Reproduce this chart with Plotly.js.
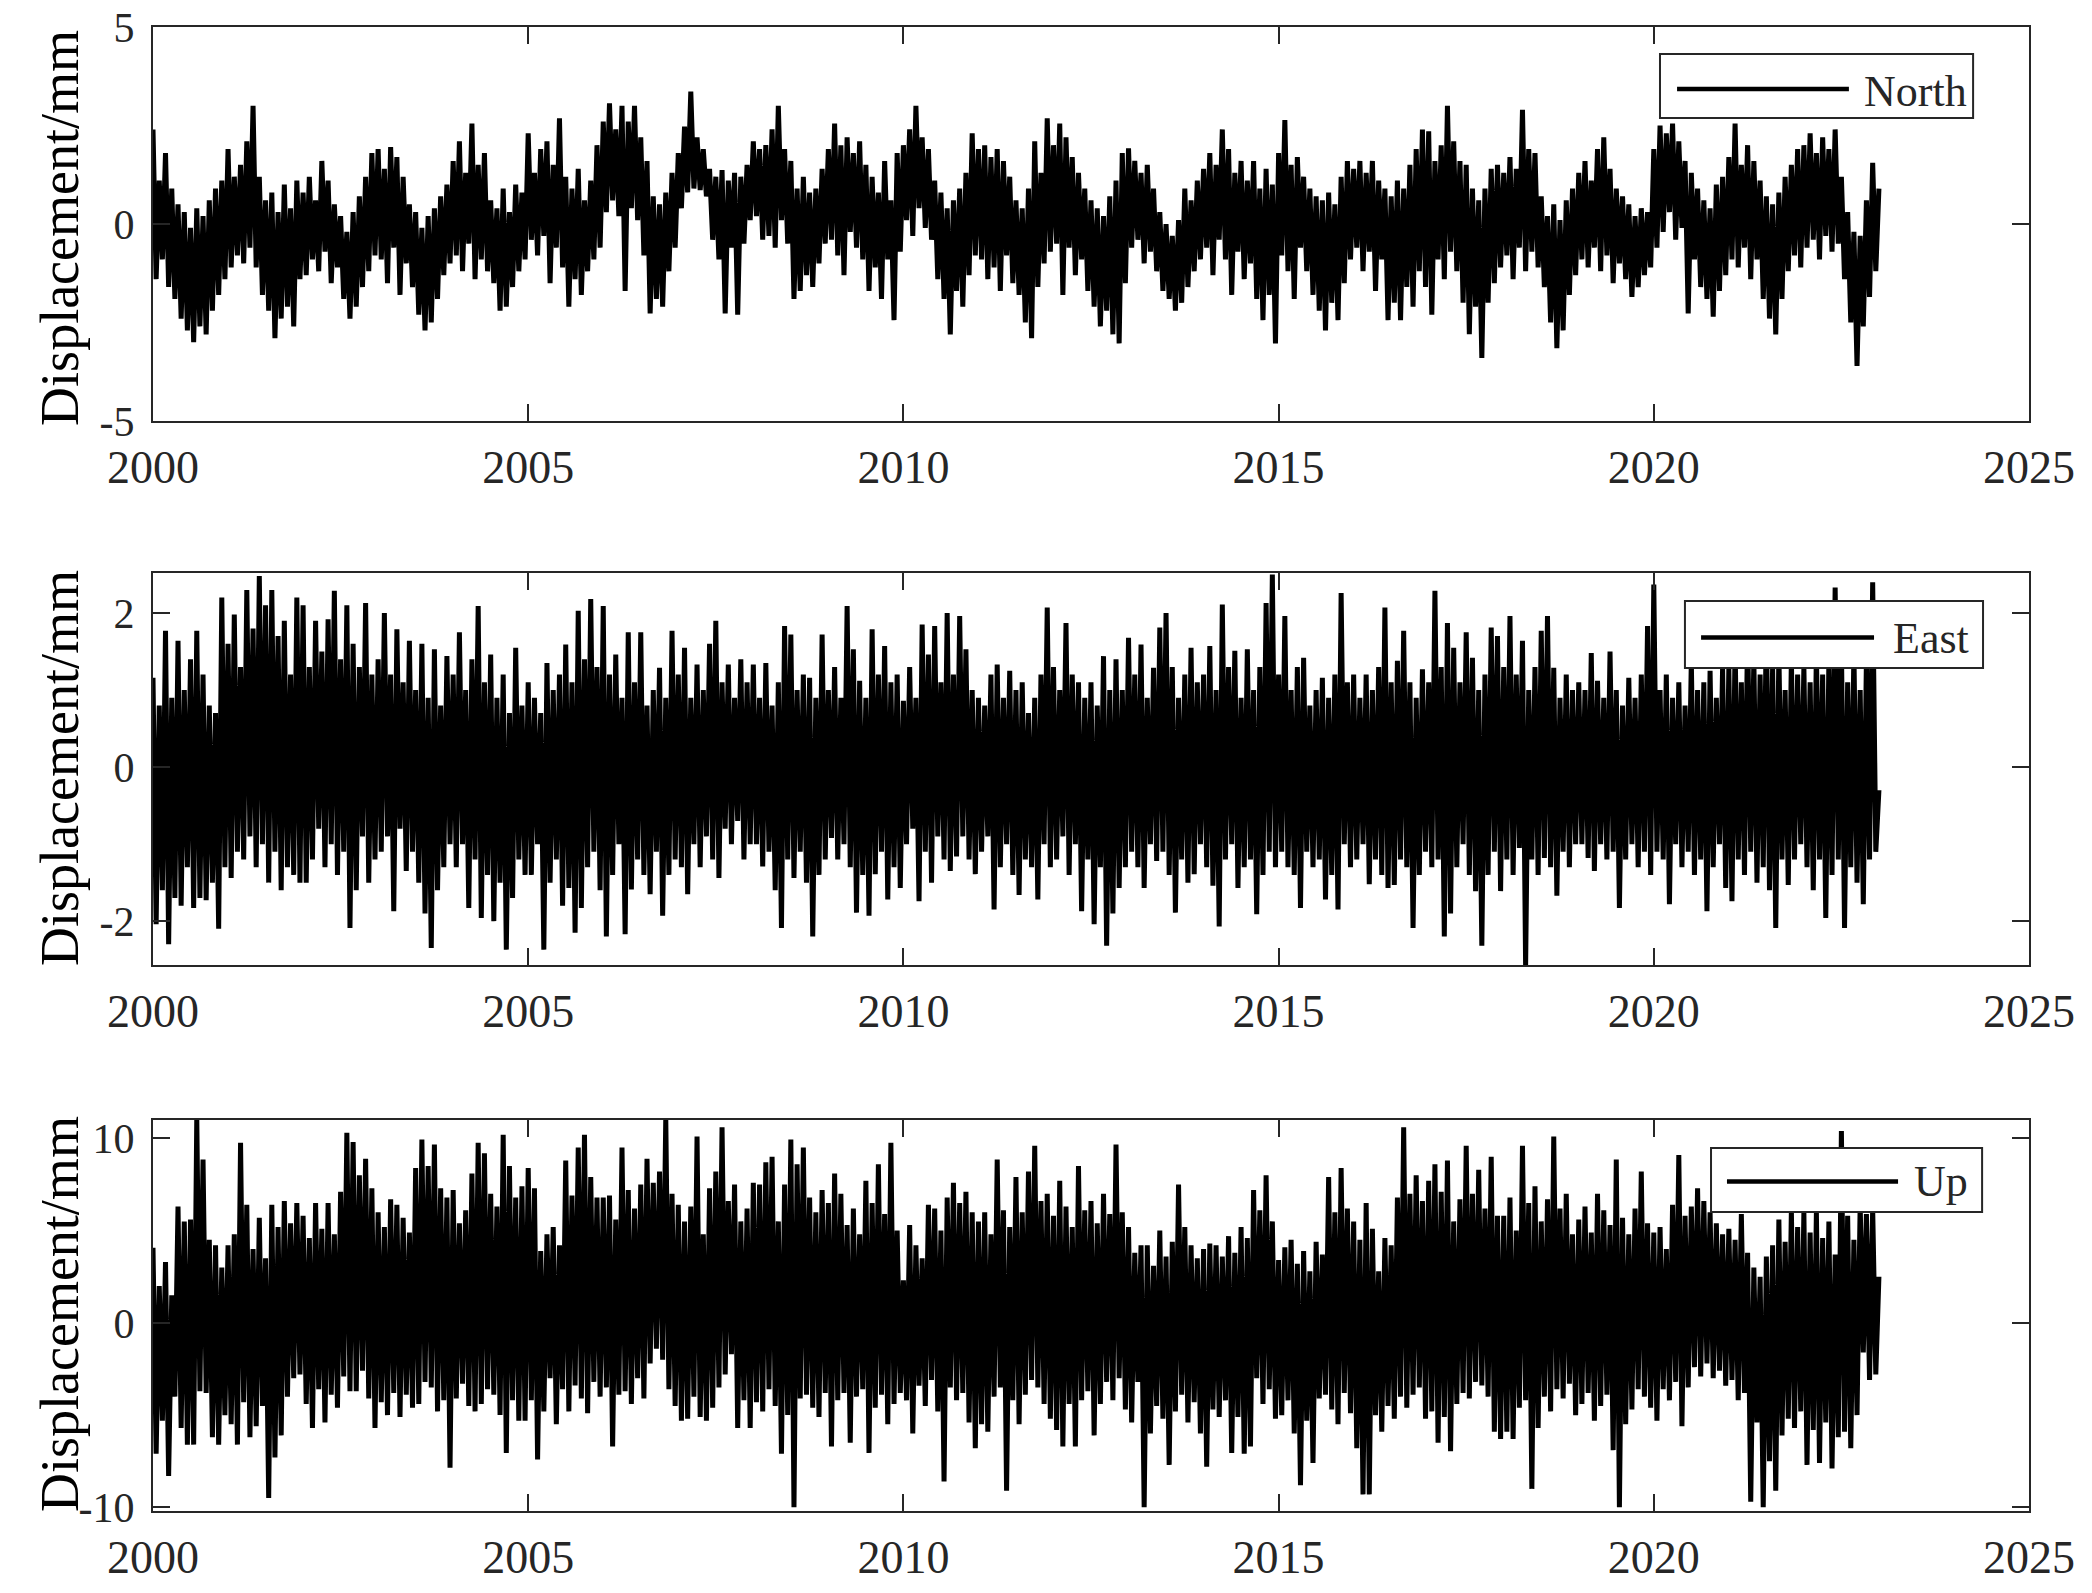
<!DOCTYPE html>
<html>
<head>
<meta charset="utf-8">
<script src="https://cdn.plot.ly/plotly-3.0.1.min.js"></script>
<style>
  html, body { margin: 0; padding: 0; background: #fff; }
  #plot { width: 2092px; height: 1593px; }
</style>
</head>
<body>
<div id="plot"></div>
<script>
// GNSS displacement time series, read off the figure as twice-monthly high/low swings
// (24 samples per year, 2000.0 to 2023.0)

var north = [
  2.4,-1.4, 1.1,-0.9, 1.8,-1.6, 0.9,-1.9, 0.5,-2.4, 0.3,-2.7, -0.1,-3.0, 0.4,-2.6, 0.2,-2.8, 0.6,-2.2, 0.9,-1.8, 1.1,-1.4,
  1.9,-1.1, 1.2,-0.8, 1.5,-1.0, 2.1,-0.6, 3.0,-1.1, 1.2,-1.8, 0.6,-2.2, 0.8,-2.9, 0.3,-2.4, 1.0,-2.1, 0.4,-2.6, 1.1,-1.4,
  0.8,-1.3, 1.2,-0.9, 0.6,-1.2, 1.6,-0.7, 1.1,-1.5, 0.5,-1.1, 0.2,-1.9, -0.2,-2.4, 0.3,-2.1, 0.7,-1.6, 1.2,-1.2, 1.8,-0.8,
  1.9,-0.9, 1.4,-1.5, 1.95,-0.6, 1.7,-1.8, 1.2,-1.0, 0.5,-1.6, 0.3,-2.3, -0.1,-2.7, 0.2,-2.5, 0.4,-1.9, 0.7,-1.3, 1.0,-1.0,
  1.6,-0.8, 2.1,-1.2, 1.3,-0.5, 2.55,-1.4, 1.5,-0.9, 1.8,-1.2, 0.6,-1.5, 0.4,-2.2, 0.9,-2.1, 0.3,-1.6, 1.0,-1.2, 0.8,-0.9,
  2.3,-0.4, 1.3,-0.8, 1.9,-0.3, 2.1,-1.5, 1.5,-0.6, 2.68,-1.1, 1.2,-2.1, 0.9,-1.4, 1.4,-1.8, 0.6,-1.2, 1.1,-0.9, 2.0,-0.6,
  2.6,0.3, 3.06,0.6, 2.4,0.2, 3.0,-1.7, 2.6,0.4, 3.0,0.1, 2.2,-0.8, 1.6,-2.27, 0.7,-1.9, 0.5,-2.1, 0.8,-1.2, 1.3,-0.6,
  1.8,0.4, 2.47,0.8, 3.36,0.9, 2.2,0.86, 1.9,0.7, 1.4,-0.4, 1.2,-0.9, 1.37,-2.27, 1.1,-0.6, 1.3,-2.3, 1.2,-0.5, 1.5,0.1,
  2.1,0.2, 1.9,-0.4, 2.0,-0.3, 2.4,-0.6, 3.0,0.1, 1.9,-0.5, 1.6,-1.9, 0.9,-1.7, 1.2,-1.3, 0.8,-1.6, 0.9,-1.0, 1.4,-0.5,
  1.9,-0.4, 2.55,-0.8, 2.0,-1.3, 2.2,-0.2, 1.8,-0.6, 2.1,-0.9, 1.5,-1.7, 1.2,-1.1, 0.8,-1.9, 1.6,-0.9, 0.6,-2.44, 1.8,-0.7,
  2.0,0.1, 2.4,-0.3, 3.0,0.4, 2.2,-0.1, 1.9,-0.4, 1.1,-1.4, 0.8,-1.9, 0.4,-2.8, 0.6,-1.7, 0.9,-2.1, 1.3,-1.3, 2.3,-0.8,
  1.9,-0.9, 2.0,-1.4, 1.7,-1.1, 1.9,-1.7, 1.6,-0.8, 1.2,-1.5, 0.6,-1.8, 0.4,-2.5, 0.9,-2.9, 2.1,-1.6, 1.3,-1.0, 2.68,-0.7,
  2.0,-0.5, 2.55,-1.8, 2.2,-0.6, 1.7,-1.3, 1.3,-0.9, 0.9,-1.7, 0.6,-2.1, 0.4,-2.6, 0.2,-2.2, 0.7,-2.8, 1.1,-3.03, 1.8,-1.5,
  1.92,-0.6, 1.6,-0.4, 1.3,-1.0, 1.5,-0.7, 0.9,-1.2, 0.3,-1.7, 0.0,-1.9, -0.3,-2.2, 0.1,-2.0, 0.9,-1.6, 0.6,-1.2, 1.1,-0.9,
  1.4,-0.6, 1.8,-1.3, 1.5,-0.4, 2.4,-0.9, 1.9,-1.8, 1.3,-0.7, 1.6,-1.4, 1.1,-1.0, 1.6,-1.9, 0.9,-2.44, 1.4,-1.8, 1.0,-3.03,
  1.8,-0.8, 2.64,-1.2, 1.5,-1.9, 1.7,-0.6, 1.2,-1.2, 0.9,-1.8, 0.7,-2.2, 0.6,-2.7, 0.8,-2.0, 0.5,-2.44, 1.2,-1.5, 1.6,-0.9,
  1.4,-0.6, 1.6,-1.2, 1.3,-0.7, 1.6,-1.7, 1.1,-0.9, 0.9,-2.44, 0.7,-2.0, 1.1,-2.44, 0.9,-1.6, 1.5,-2.1, 1.9,-1.2, 2.4,-1.6,
  2.35,-2.3, 1.6,-0.9, 2.0,-1.4, 3.0,-0.7, 2.1,-1.2, 1.6,-2.0, 1.5,-2.8, 0.9,-2.1, 0.6,-3.4, 0.9,-2.0, 1.4,-1.5, 1.5,-1.1,
  1.3,-0.8, 1.7,-1.4, 1.4,-0.6, 2.9,-1.2, 1.9,-0.7, 1.8,-1.1, 0.7,-1.6, 0.2,-2.5, 0.5,-3.15, 0.1,-2.7, 0.6,-1.8, 0.9,-1.3,
  1.3,-0.9, 1.6,-1.1, 1.1,-0.6, 1.9,-1.2, 2.2,-0.8, 1.4,-1.5, 0.9,-1.0, 0.7,-1.4, 0.5,-1.85, 0.2,-1.6, 0.4,-1.3, 0.3,-1.1,
  1.9,-0.6, 2.5,-0.2, 2.3,0.3, 2.55,-0.4, 2.1,-0.1, 1.6,-2.27, 1.3,-0.9, 0.9,-1.6, 0.6,-1.9, 0.4,-2.35, 1.0,-1.7, 1.2,-1.3,
  1.7,-0.9, 2.55,-1.1, 1.5,-0.6, 2.0,-1.4, 1.6,-0.9, 1.1,-1.9, 0.7,-2.4, 0.5,-2.8, 0.8,-1.9, 1.2,-1.2, 1.5,-0.8, 1.9,-1.1,
  2.0,-0.6, 2.3,-0.4, 1.8,-0.9, 2.2,-0.3, 1.9,-0.7, 2.4,-0.5, 1.2,-1.4, 0.3,-2.5, -0.2,-3.6, -0.3,-2.6, 0.6,-1.85, 1.55,-1.2,
  0.9
];

var east = [
  1.16,-2.04, 0.8,-1.6, 1.77,-2.3, 0.9,-1.7, 1.64,-1.8, 1.0,-1.3, 1.4,-1.83, 1.77,-1.7, 1.2,-1.73, 0.8,-1.5, 0.7,-2.1, 2.2,-1.3,
  1.6,-1.44, 1.98,-1.1, 1.3,-1.2, 2.3,-0.9, 1.8,-1.3, 2.48,-1.0, 2.1,-1.5, 2.3,-1.1, 1.7,-1.6, 1.9,-1.3, 1.2,-1.4, 2.2,-1.5,
  2.1,-1.5, 1.3,-1.2, 1.9,-0.8, 1.5,-1.3, 1.92,-1.0, 2.29,-1.4, 1.4,-1.1, 2.1,-2.09, 1.6,-1.6, 1.3,-0.9, 2.13,-1.5, 1.2,-1.2,
  1.4,-1.1, 2.0,-0.9, 1.2,-1.87, 1.79,-0.8, 1.1,-1.35, 1.64,-1.1, 1.0,-1.5, 1.6,-1.9, 0.9,-2.35, 1.53,-1.6, 0.8,-1.3, 1.44,-1.0,
  1.2,-1.3, 1.75,-1.0, 1.0,-1.83, 1.4,-1.2, 2.09,-1.96, 1.1,-1.4, 1.46,-2.0, 0.9,-1.5, 1.2,-2.37, 0.7,-1.7, 1.55,-1.2, 0.8,-1.4,
  1.1,-1.4, 0.9,-1.0, 0.7,-2.37, 1.35,-1.5, 1.0,-1.2, 1.2,-1.8, 1.59,-1.57, 1.1,-2.15, 2.03,-1.83, 1.4,-1.3, 2.18,-1.1, 1.3,-1.6,
  2.09,-2.2, 1.2,-1.4, 1.46,-1.0, 0.9,-2.17, 1.75,-1.59, 1.1,-1.2, 1.75,-1.4, 0.8,-1.65, 1.0,-1.1, 1.29,-1.93, 0.9,-1.4, 1.77,-1.2,
  1.2,-1.3, 1.55,-1.65, 0.9,-1.0, 1.33,-1.3, 1.0,-0.9, 1.6,-1.2, 1.9,-1.44, 1.1,-0.8, 1.33,-1.0, 0.9,-0.7, 1.4,-1.2, 1.1,-1.0,
  1.33,-1.0, 0.9,-1.29, 1.35,-1.1, 0.8,-1.6, 1.1,-2.09, 1.83,-1.2, 1.72,-1.44, 1.0,-1.1, 1.2,-1.5, 1.16,-2.2, 0.9,-1.4, 1.72,-1.2,
  1.0,-0.92, 1.3,-1.2, 0.9,-1.0, 2.09,-1.3, 1.53,-1.89, 1.12,-1.4, 0.9,-1.93, 1.79,-1.39, 1.2,-1.1, 1.57,-1.72, 1.1,-1.3, 1.2,-1.57,
  0.86,-1.0, 1.3,-0.8, 0.9,-1.74, 1.85,-1.1, 1.46,-1.5, 1.83,-0.9, 1.1,-1.2, 2.0,-1.35, 1.2,-1.16, 1.96,-0.9, 1.53,-1.2, 1.0,-1.39,
  0.9,-1.1, 0.8,-0.9, 1.2,-1.85, 1.33,-1.3, 0.9,-1.0, 1.25,-1.4, 1.0,-1.66, 1.1,-1.2, 0.7,-1.3, 0.9,-1.72, 1.2,-1.0, 2.07,-1.3,
  1.3,-1.2, 1.0,-0.9, 1.87,-1.4, 1.2,-1.0, 1.1,-1.87, 0.9,-1.2, 1.1,-2.04, 0.8,-1.3, 1.44,-2.32, 1.0,-1.9, 1.4,-1.57, 1.0,-1.3,
  1.68,-1.1, 1.2,-1.3, 1.59,-1.57, 0.9,-1.0, 1.29,-1.22, 1.81,-1.1, 2.0,-1.4, 1.3,-1.89, 0.9,-1.2, 1.2,-1.5, 1.55,-1.39, 1.1,-1.0,
  1.2,-1.3, 1.57,-1.54, 1.0,-2.07, 2.11,-1.2, 1.3,-1.0, 1.51,-1.57, 0.9,-1.3, 1.53,-1.2, 1.0,-1.91, 1.3,-1.4, 2.13,-1.1, 2.5,-1.3,
  1.2,-1.1, 1.96,-1.3, 1.0,-1.4, 1.3,-1.83, 1.42,-1.1, 0.8,-1.3, 1.0,-1.2, 1.16,-1.72, 0.9,-1.4, 1.2,-1.85, 2.26,-1.0, 1.1,-1.3,
  1.2,-1.2, 0.9,-1.0, 1.2,-1.52, 1.0,-1.2, 1.3,-1.4, 2.07,-1.57, 1.1,-1.53, 1.38,-1.2, 1.77,-1.3, 1.1,-2.09, 0.9,-1.4, 1.27,-1.1,
  1.1,-1.3, 2.29,-1.2, 1.3,-2.2, 1.87,-1.9, 1.55,-1.3, 1.1,-1.0, 1.75,-1.4, 1.42,-1.61, 1.0,-2.32, 1.2,-1.4, 1.81,-1.1, 1.7,-1.61,
  1.3,-1.2, 1.96,-1.4, 1.2,-1.05, 1.64,-2.58, 1.0,-1.2, 1.3,-1.4, 1.77,-1.18, 1.96,-1.3, 1.29,-1.67, 0.9,-1.1, 1.2,-1.3, 1.0,-1.0,
  1.1,-1.0, 1.0,-1.18, 1.48,-1.35, 1.12,-1.0, 0.9,-1.2, 1.5,-1.1, 1.0,-1.83, 0.8,-1.2, 1.16,-1.0, 0.9,-1.3, 1.2,-1.1, 1.83,-1.4,
  2.37,-1.1, 1.0,-1.2, 1.2,-1.78, 0.9,-1.0, 1.1,-1.3, 0.8,-1.1, 1.38,-1.4, 1.0,-1.2, 1.1,-1.87, 1.25,-1.3, 0.9,-1.0, 1.29,-1.57,
  1.3,-1.74, 1.6,-1.2, 1.1,-1.4, 1.8,-1.1, 1.4,-1.5, 1.2,-1.3, 1.9,-1.6, 1.3,-2.09, 1.5,-1.2, 1.0,-1.53, 1.4,-1.2, 1.2,-1.0,
  1.3,-1.3, 1.1,-1.6, 1.5,-1.2, 1.2,-1.96, 1.4,-1.4, 2.33,-1.2, 1.6,-2.09, 1.1,-1.3, 1.5,-1.5, 1.0,-1.78, 1.4,-1.2, 2.4,-1.1,
  -0.3
];

var up = [
  4.07,-7.1, 2.0,-5.3, 3.3,-8.3, 1.5,-4.0, 6.3,-5.7, 5.5,-6.6, 5.6,-6.6, 11.1,-3.7, 8.85,-3.8, 4.5,-6.2, 4.2,-6.6, 3.0,-5.0,
  4.2,-5.5, 4.8,-6.6, 9.76,-4.3, 6.4,-6.2, 4.0,-5.6, 5.7,-4.5, 3.5,-9.5, 6.4,-7.3, 5.2,-6.1, 6.6,-4.0, 5.4,-3.0, 6.5,-2.8,
  5.8,-4.4, 4.6,-5.7, 6.5,-3.6, 5.1,-5.4, 6.5,-3.9, 4.8,-4.6, 7.1,-2.9, 10.3,-3.7, 9.8,-3.7, 8.0,-2.6, 8.9,-4.1, 7.3,-5.7,
  6.0,-4.3, 5.2,-5.0, 6.7,-3.8, 6.4,-5.1, 5.7,-3.9, 4.9,-4.6, 8.4,-4.4, 9.94,-3.2, 8.5,-3.5, 9.67,-4.8, 7.3,-4.2, 6.8,-7.86,
  7.2,-4.1, 5.4,-3.3, 6.1,-4.5, 8.1,-4.8, 9.76,-4.4, 9.2,-3.6, 7.0,-3.9, 6.3,-5.0, 10.2,-7.05, 8.5,-4.2, 6.8,-5.3, 7.4,-5.3,
  8.4,-4.2, 7.3,-7.4, 3.9,-4.8, 4.8,-3.0, 5.2,-5.5, 4.2,-3.6, 8.8,-4.8, 6.9,-3.4, 9.5,-4.1, 10.2,-4.9, 7.9,-3.2, 6.8,-4.0,
  6.8,-3.5, 6.9,-6.7, 5.6,-3.9, 9.5,-3.7, 7.2,-4.4, 6.2,-3.0, 7.5,-4.1, 8.9,-2.2, 7.6,-1.4, 8.2,-2.0, 11.1,-3.6, 7.0,-4.5,
  6.4,-5.3, 5.5,-5.2, 6.3,-4.0, 10.1,-5.1, 4.8,-5.3, 7.3,-4.6, 8.2,-3.5, 10.6,-2.8, 6.6,-1.7, 7.5,-5.7, 5.5,-4.2, 6.2,-5.7,
  7.6,-4.3, 7.5,-4.8, 8.7,-3.6, 9.0,-4.5, 5.5,-7.1, 7.5,-5.0, 9.94,-10.0, 8.6,-4.1, 9.5,-3.9, 6.8,-4.6, 6.0,-5.1, 7.2,-3.8,
  6.5,-6.7, 8.1,-4.2, 7.0,-3.8, 5.3,-6.5, 6.2,-4.0, 4.8,-3.6, 7.7,-7.05, 6.5,-4.6, 8.6,-3.9, 5.9,-5.5, 9.76,-4.4, 5.0,-3.8,
  2.3,-4.2, 5.3,-6.0, 4.2,-3.4, 3.5,-4.5, 6.4,-3.1, 6.2,-4.8, 5.0,-8.6, 6.8,-3.5, 7.6,-4.2, 6.5,-3.8, 7.1,-5.4, 6.0,-6.8,
  5.5,-5.5, 6.0,-5.9, 4.8,-4.0, 8.85,-3.5, 6.1,-9.1, 5.2,-4.2, 7.9,-5.5, 6.0,-3.9, 8.2,-3.1, 9.6,-3.5, 6.6,-4.4, 7.0,-5.2,
  5.8,-5.8, 7.7,-6.7, 6.3,-4.4, 5.2,-6.7, 8.5,-4.2, 6.1,-3.7, 6.6,-6.1, 5.4,-4.4, 7.0,-3.2, 5.9,-4.2, 9.67,-3.0, 6.0,-4.7,
  5.2,-5.4, 3.8,-3.2, 4.2,-10.0, 4.2,-6.0, 3.1,-4.5, 5.0,-5.2, 3.6,-7.7, 4.4,-4.8, 7.5,-3.9, 5.2,-5.4, 4.2,-4.3, 3.5,-6.0,
  4.0,-7.8, 4.3,-4.7, 4.2,-5.1, 3.6,-4.2, 4.7,-7.05, 3.8,-5.1, 5.2,-7.1, 4.6,-6.7, 7.2,-3.0, 6.1,-4.4, 8.0,-3.6, 5.5,-5.2,
  3.4,-5.0, 4.1,-4.2, 4.5,-6.0, 3.2,-8.8, 3.9,-5.3, 2.8,-7.6, 4.4,-4.1, 3.7,-3.9, 7.9,-4.7, 6.0,-5.5, 8.4,-3.8, 6.2,-4.9,
  5.5,-6.8, 4.5,-9.3, 6.5,-9.3, 5.1,-5.0, 2.8,-5.9, 4.6,-4.5, 4.2,-5.2, 6.8,-4.0, 10.6,-4.6, 7.0,-3.9, 8.0,-3.5, 6.6,-5.2,
  7.7,-4.8, 8.6,-6.5, 7.1,-5.1, 8.8,-6.96, 5.5,-4.4, 6.7,-3.8, 9.6,-4.1, 7.0,-3.2, 8.3,-3.4, 6.2,-4.0, 9.0,-5.9, 5.8,-6.3,
  5.8,-5.9, 6.8,-6.3, 5.0,-4.6, 9.6,-4.2, 6.5,-9.0, 7.4,-5.7, 5.5,-4.0, 6.7,-4.8, 10.1,-3.6, 6.2,-4.1, 7.0,-3.3, 4.8,-5.0,
  5.6,-4.4, 6.3,-3.8, 4.9,-5.3, 7.0,-4.5, 6.1,-3.9, 5.3,-6.9, 8.85,-10.0, 5.7,-5.5, 4.8,-4.7, 6.2,-3.6, 8.2,-4.0, 5.4,-4.6,
  4.9,-5.3, 5.2,-3.6, 4.0,-4.2, 6.4,-3.2, 9.1,-5.6, 5.8,-3.5, 6.3,-2.4, 7.3,-2.9, 6.6,-2.2, 6.0,-3.0, 5.4,-2.6, 4.8,-3.4,
  5.1,-3.1, 4.5,-4.2, 5.9,-3.8, 3.8,-9.7, 3.0,-5.4, 2.5,-10.0, 3.6,-7.5, 4.2,-9.1, 5.6,-6.1, 4.4,-5.2, 6.1,-5.7, 5.2,-4.8,
  6.0,-7.7, 4.9,-5.8, 6.0,-7.6, 4.6,-5.4, 5.5,-7.9, 3.7,-6.2, 10.4,-5.9, 5.8,-6.8, 4.5,-5.0, 6.4,-1.6, 5.9,-3.1, 6.2,-2.8,
  2.5
];

var yearTicks = [2000, 2005, 2010, 2015, 2020, 2025];
var northTicks = [-5, 0, 5];
var eastTicks = [-2, 0, 2];
var upTicks = [-10, 0, 10];

// sample times: 24 per year starting at 2000.0
var time = north.map(function (_, i) { return 2000 + i / 24; });

var serif = 'Liberation Serif, Times New Roman, serif';
var ink = '#262626';

function trace(y, name, xa, ya) {
    return {
        x: time, y: y, name: name, xaxis: xa, yaxis: ya,
        type: 'scatter', mode: 'lines',
        line: {color: '#000000', width: 5},
        showlegend: false, hoverinfo: 'skip'
    };
}

function xAxis(anchor) {
    return {
        anchor: anchor, range: [2000, 2025], tickvals: yearTicks,
        ticks: 'inside', ticklen: 17, tickwidth: 2, tickcolor: ink,
        showline: true, linewidth: 2, linecolor: ink, mirror: 'ticks',
        showgrid: false, zeroline: false, ticklabelstandoff: 5,
        tickfont: {family: serif, size: 46, color: ink}
    };
}

function yAxis(anchor, range, ticks, domain) {
    return {
        anchor: anchor, range: range, domain: domain,
        tickvals: ticks, ticktext: ticks.map(function (v) { return String(v); }),
        ticks: 'inside', ticklen: 17, tickwidth: 2, tickcolor: ink,
        showline: true, linewidth: 2, linecolor: ink, mirror: 'ticks',
        showgrid: false, zeroline: false, ticklabelstandoff: 8,
        tickfont: {family: serif, size: 42, color: ink}
    };
}

var data = [
    trace(north, 'North', 'x', 'y'),
    trace(east, 'East', 'x2', 'y2'),
    trace(up, 'Up', 'x3', 'y3')
];

// hand-made legend boxes (long sample line like the original)
function legendShapes(xr, yr, box, line) {
    return [
        {type: 'rect', xref: xr, yref: yr, x0: box[0], x1: box[1], y0: box[2], y1: box[3],
         fillcolor: '#ffffff', line: {color: ink, width: 2}, layer: 'above'},
        {type: 'line', xref: xr, yref: yr, x0: line[0], x1: line[1], y0: line[2], y1: line[2],
         line: {color: '#000000', width: 4.5}, layer: 'above'}
    ];
}

var shapes = []
    .concat(legendShapes('x domain', 'y domain', [0.8033, 0.9702, 0.769, 0.9315], [0.8124, 0.904, 0.8427]))
    .concat(legendShapes('x2 domain', 'y2 domain', [0.8166, 0.9755, 0.7577, 0.9286], [0.8252, 0.9174, 0.8355]))
    .concat(legendShapes('x3 domain', 'y3 domain', [0.8305, 0.975, 0.7647, 0.9284], [0.839, 0.9302, 0.8425]));

function legendText(text, xr, yr, x, y) {
    return {text: text, xref: xr, yref: yr, x: x, y: y, xanchor: 'left', yanchor: 'middle',
            showarrow: false, font: {family: serif, size: 44, color: ink}};
}

function yTitle(y) {
    return {text: 'Displacement/mm', xref: 'paper', yref: 'paper', x: -0.0496, y: y,
            xanchor: 'center', yanchor: 'middle', textangle: -90, showarrow: false,
            font: {family: serif, size: 54, color: '#000000'}};
}

var layout = {
    width: 2092, height: 1593,
    margin: {l: 153, r: 63, t: 27, b: 82},
    paper_bgcolor: '#ffffff', plot_bgcolor: '#ffffff',
    showlegend: false,
    xaxis: xAxis('y'),
    xaxis2: xAxis('y2'),
    xaxis3: xAxis('y3'),
    yaxis: yAxis('x', [-5, 5], northTicks, [0.7345, 1]),
    yaxis2: yAxis('x2', [-2.57, 2.52], eastTicks, [0.3679, 0.6321]),
    yaxis3: yAxis('x3', [-10.2, 11.0], upTicks, [0, 0.2635]),
    shapes: shapes,
    annotations: [
        yTitle(0.8646), yTitle(0.5007), yTitle(0.1327),
        legendText('North', 'x domain', 'y domain', 0.911, 0.837),
        legendText('East', 'x2 domain', 'y2 domain', 0.9265, 0.832),
        legendText('Up', 'x3 domain', 'y3 domain', 0.9376, 0.842)
    ]
};

Plotly.newPlot('plot', data, layout, {displayModeBar: false, staticPlot: true});
</script>
</body>
</html>
